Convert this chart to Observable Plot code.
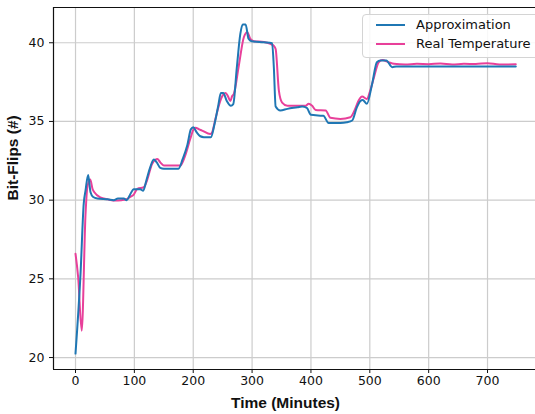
<!DOCTYPE html>
<html><head><meta charset="utf-8">
<script src="https://cdn.jsdelivr.net/npm/d3@7"></script>
<script src="https://cdn.jsdelivr.net/npm/@observablehq/plot@0.6"></script>
<style>
body{margin:0;background:#fff;}
#wrap{position:relative;width:535px;height:414px;overflow:hidden;}
.legend{position:absolute;left:362px;top:14px;width:190px;height:44px;border:1px solid #d4d4d4;border-radius:4px;background:rgba(255,255,255,0.85);box-sizing:border-box;font-family:"DejaVu Sans",sans-serif;font-size:13px;color:#111;}
.legend .sw{position:absolute;left:13px;width:29px;height:2px;}
.legend .lb{position:absolute;left:53px;line-height:16px;white-space:nowrap;}
</style></head>
<body><div id="wrap"></div>
<script>
const timeApprox = [0, 8.5, 14, 17, 21.5, 25.5, 30, 37, 55, 65, 72, 82, 87, 92, 99, 110, 115, 120, 127, 133, 138, 144, 150, 175, 182, 190, 196, 200, 206, 212, 218, 230, 236, 242, 247, 251, 257, 264, 268, 274, 280, 284, 289, 294, 299, 320, 334, 337, 340, 348, 360, 377, 385, 393, 400, 416, 421, 430, 450, 461, 470, 478, 484, 488, 495, 504, 512, 518, 528, 538, 545, 600, 680, 748];
const approx = [20.25, 25.3, 29.8, 30.6, 31.6, 30.5, 30.2, 30.1, 30.05, 30.0, 30.1, 30.1, 30.0, 30.3, 30.7, 30.7, 30.6, 31.2, 32.1, 32.58, 32.4, 32.05, 32.0, 32.0, 32.6, 33.5, 34.5, 34.63, 34.3, 34.06, 34.0, 34.0, 34.8, 35.9, 36.8, 36.8, 36.3, 36.0, 36.1, 38.4, 40.56, 41.16, 41.16, 40.25, 40.1, 40.03, 39.97, 38.4, 35.95, 35.7, 35.8, 35.9, 35.95, 35.86, 35.42, 35.37, 35.37, 34.9, 34.9, 34.95, 35.06, 35.9, 36.3, 36.37, 36.12, 37.4, 38.76, 38.87, 38.87, 38.45, 38.49, 38.49, 38.49, 38.49];
const timeReal = [0, 4.5, 10.5, 17, 20, 25, 29, 32, 42, 55, 68, 78, 85, 93, 99, 105, 116, 121, 130, 136, 139, 144, 150, 178, 186, 195, 201, 204, 210, 215, 229, 232, 238, 245, 251, 255, 259, 263, 266, 269, 277, 286, 291.7, 297, 303, 320, 331, 337, 340, 345.5, 351, 360, 391, 396, 402, 408, 425, 433, 450, 467, 474, 481, 487, 495, 501, 507, 515, 521, 532, 541, 560, 580, 600, 620, 640, 660, 680, 700, 720, 748];
const real = [26.59, 25.1, 21.7, 29.1, 30.8, 31.31, 30.7, 30.5, 30.18, 30.05, 29.97, 30.0, 30.04, 30.2, 30.35, 30.72, 30.82, 31.2, 32.3, 32.58, 32.62, 32.4, 32.2, 32.2, 32.8, 33.9, 34.53, 34.6, 34.5, 34.42, 34.2, 34.3, 35.2, 36.2, 36.7, 36.8, 36.6, 36.3, 36.6, 36.75, 38.44, 40.35, 40.67, 40.25, 40.1, 40.05, 39.93, 39.8, 39.6, 36.96, 36.2, 36.0, 36.0, 36.12, 36.0, 35.73, 35.7, 35.23, 35.16, 35.27, 35.7, 36.33, 36.58, 36.43, 37.0, 37.8, 38.76, 38.9, 38.76, 38.66, 38.62, 38.66, 38.64, 38.68, 38.62, 38.66, 38.65, 38.7, 38.62, 38.63];
const xTicks = [0, 100, 200, 300, 400, 500, 600, 700];
const yTicks = [20, 25, 30, 35, 40];
const seriesNames = ["Approximation", "Real Temperature"];
const seriesColors = ["#1f77b4", "#e8409a"];
const xLabel = "Time (Minutes)";
const yLabel = "Bit-Flips (#)";

const xDomain = [-37.4, 781.5];
const yDomain = [19.24, 42.24];

const approxData = timeApprox.map((t, i) => ({t, v: approx[i]}));
const realData = timeReal.map((t, i) => ({t, v: real[i]}));

const tickFont = "DejaVu Sans, sans-serif";
const labelFont = "Liberation Sans, Arial, sans-serif";

const chart = Plot.plot({
  width: 535,
  height: 414,
  marginLeft: 53,
  marginTop: 7,
  marginBottom: 45,
  marginRight: 0,
  x: {domain: xDomain},
  y: {domain: yDomain},
  style: {background: "white", color: "#111"},
  marks: [
    Plot.gridX(xTicks, {stroke: "#cccccc", strokeOpacity: 1, strokeWidth: 1.2}),
    Plot.gridY(yTicks, {stroke: "#cccccc", strokeOpacity: 1, strokeWidth: 1.2}),
    Plot.line(realData, {x: "t", y: "v", stroke: seriesColors[1], strokeWidth: 2, curve: "monotone-x"}),
    Plot.line(approxData, {x: "t", y: "v", stroke: seriesColors[0], strokeWidth: 2, curve: "monotone-x"}),
    Plot.ruleX([xDomain[0]], {stroke: "#111", strokeWidth: 1.2}),
    Plot.ruleY([yDomain[0]], {stroke: "#111", strokeWidth: 1.2}),
    Plot.ruleY([yDomain[1]], {stroke: "#111", strokeWidth: 1.2}),
    Plot.axisX(xTicks, {tickSize: 4, tickPadding: 3, fontSize: 12.5, fontFamily: tickFont, label: null}),
    Plot.axisY(yTicks, {tickSize: 4, tickPadding: 5, fontSize: 12.5, fontFamily: tickFont, label: null}),
    Plot.text([xLabel], {frameAnchor: "bottom", lineAnchor: "middle", dy: 34, dx: -9, fontSize: 15.5, fontWeight: "bold", fontFamily: labelFont}),
    Plot.text([yLabel], {frameAnchor: "left", lineAnchor: "middle", rotate: -90, dx: -40, dy: 12, fontSize: 15.5, fontWeight: "bold", fontFamily: labelFont})
  ]
});

const wrap = document.getElementById("wrap");
wrap.appendChild(chart);

const legend = document.createElement("div");
legend.className = "legend";
const rowY = [9.5, 29];
seriesNames.forEach((name, i) => {
  const sw = document.createElement("div");
  sw.className = "sw";
  sw.style.top = (rowY[i] - 1) + "px";
  sw.style.background = seriesColors[i];
  legend.appendChild(sw);
  const lb = document.createElement("div");
  lb.className = "lb";
  lb.style.top = (rowY[i] - 8) + "px";
  lb.textContent = name;
  legend.appendChild(lb);
});
wrap.appendChild(legend);
</script>
</body></html>
